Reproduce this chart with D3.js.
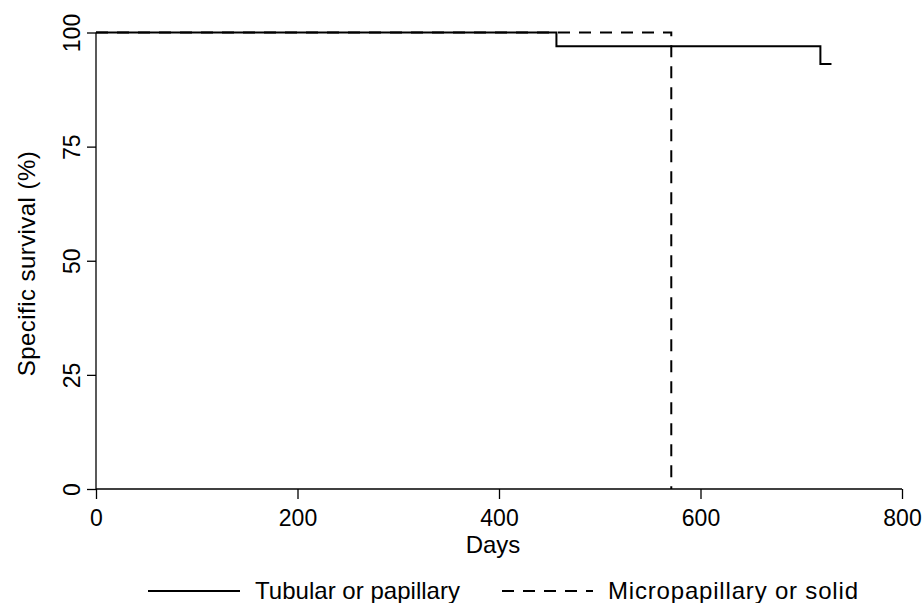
<!DOCTYPE html>
<html>
<head>
<meta charset="utf-8">
<script src="https://cdn.jsdelivr.net/npm/d3@7"></script>
<style>
html,body{margin:0;padding:0;background:#fff;}
svg{display:block;}
text{font-family:"Liberation Sans",Arial,sans-serif;fill:#000;}
</style>
</head>
<body>
<svg id="chart" width="924" height="603"></svg>
<script>
// Data
const xTicks = [0, 200, 400, 600, 800];
const yTicks = [0, 25, 50, 75, 100];
const tubularDays = [0, 457, 719, 730];
const tubularSurv = [100, 97.0, 93.1, 93.1];
const microDays = [0, 571, 571];
const microSurv = [100, 100, 0];
const seriesNames = ["Tubular or papillary", "Micropapillary or solid"];
const xTitle = "Days";
const yTitle = "Specific survival (%)";

const svg = d3.select("#chart");
const x = d3.scaleLinear().domain([0, 800]).range([96, 902]);
const y = d3.scaleLinear().domain([0, 100]).range([489, 32.5]);
const fs = 23;

// axes
const xAxis = svg.append("g").attr("transform", `translate(0,${y(0)})`)
  .call(d3.axisBottom(x).tickValues(xTicks).tickSize(10).tickPadding(6).tickFormat(d3.format("d")));
const yAxis = svg.append("g").attr("transform", `translate(${x(0)},0)`)
  .call(d3.axisLeft(y).tickValues(yTicks).tickSize(9).tickFormat(d3.format("d")));
[xAxis, yAxis].forEach(g => {
  g.select(".domain").attr("stroke", "#000").attr("stroke-width", 1.3);
  g.selectAll(".tick line").attr("stroke", "#000").attr("stroke-width", 1.3);
  g.selectAll("text").style("font-family", '"Liberation Sans",Arial,sans-serif')
    .style("font-size", fs + "px").attr("fill", "#000");
});
xAxis.selectAll(".domain").attr("d", `M${x(0)},0H${x(800)}`);
xAxis.selectAll(".tick text").attr("dy", null).attr("y", 37);
yAxis.selectAll(".domain").attr("d", `M0,${y(0)}V${y(100)}`);
yAxis.selectAll(".tick text")
  .attr("x", null).attr("dy", null)
  .attr("text-anchor", "middle")
  .attr("transform", "translate(-16,0) rotate(-90)");

// titles
svg.append("text").attr("x", 493).attr("y", 553).attr("text-anchor", "middle")
  .style("font-size", "24px").text(xTitle);
svg.append("text").attr("transform", `translate(35,${(y(0)+y(100))/2 + 3}) rotate(-90)`)
  .attr("text-anchor", "middle").style("font-size", "24px")
  .attr("textLength", 225).attr("lengthAdjust", "spacing").text(yTitle);

// lines
const line = d3.line().x(d => x(d[0])).y(d => y(d[1])).curve(d3.curveStepAfter);
const tub = tubularDays.map((d, i) => [d, tubularSurv[i]]);
const mic = microDays.map((d, i) => [d, microSurv[i]]);
svg.append("path").attr("d", line(mic)).attr("fill", "none").attr("stroke", "#000")
  .attr("stroke-width", 2).attr("stroke-dasharray", "12,9");
svg.append("path").attr("d", line(tub)).attr("fill", "none").attr("stroke", "#000")
  .attr("stroke-width", 2);

// legend
const leg = svg.append("g");
leg.append("line").attr("x1", 148).attr("x2", 240).attr("y1", 591).attr("y2", 591)
  .attr("stroke", "#000").attr("stroke-width", 2);
leg.append("text").attr("x", 255).attr("y", 599).style("font-size", "24px")
  .attr("textLength", 205).attr("lengthAdjust", "spacing").text(seriesNames[0]);
leg.append("line").attr("x1", 502).attr("x2", 593).attr("y1", 591).attr("y2", 591)
  .attr("stroke", "#000").attr("stroke-width", 2).attr("stroke-dasharray", "12,9");
leg.append("text").attr("x", 608).attr("y", 599).style("font-size", "24px")
  .attr("textLength", 250).attr("lengthAdjust", "spacing").text(seriesNames[1]);
</script>
</body>
</html>
